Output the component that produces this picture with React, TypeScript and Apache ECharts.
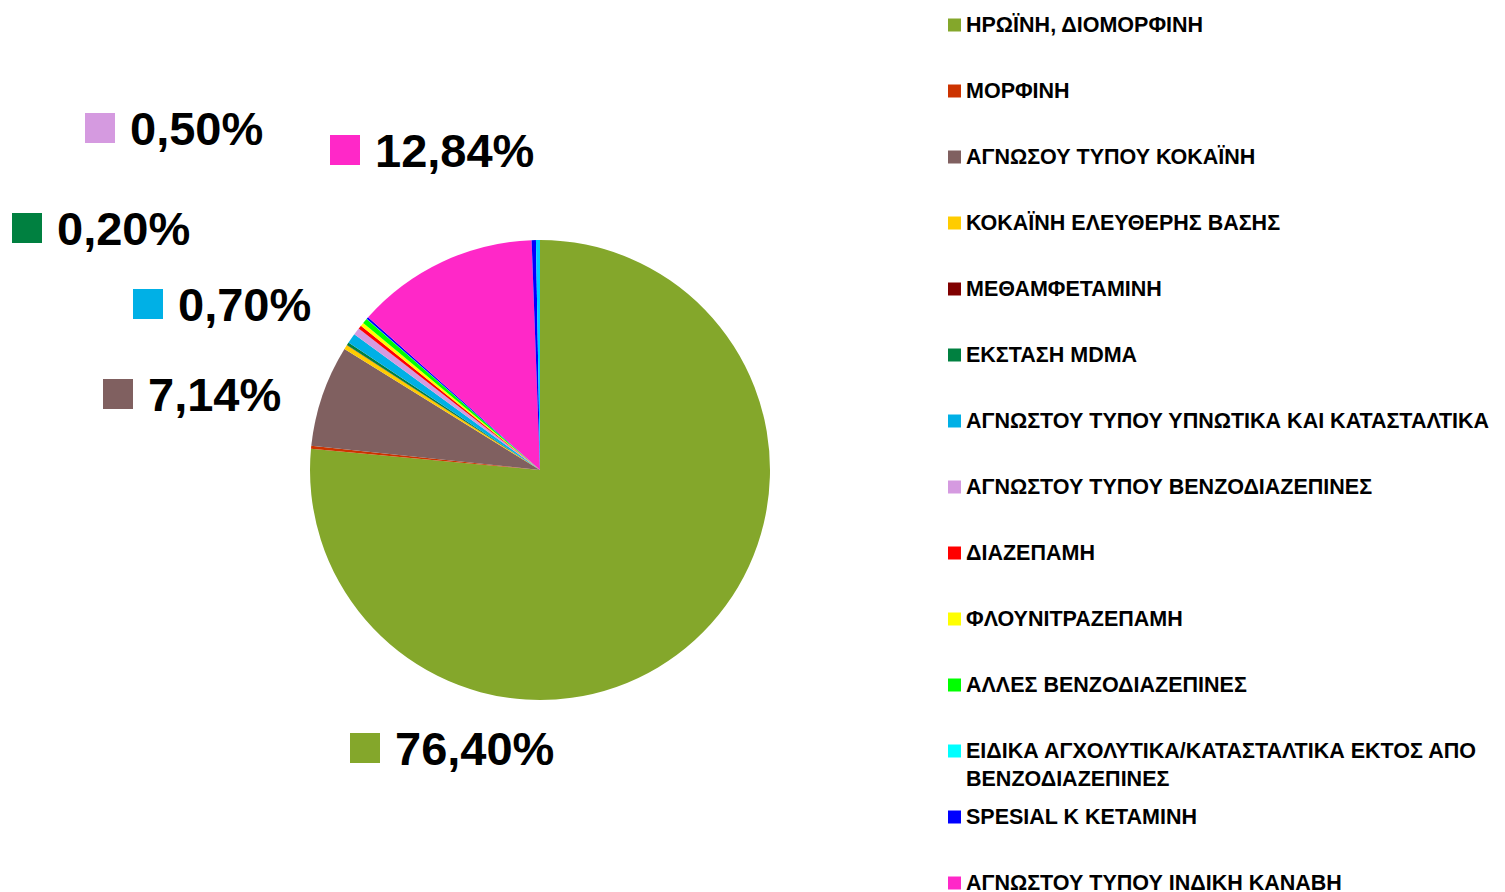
import React, { useEffect, useRef } from 'react';
import * as echarts from 'echarts';

const categories = [
  'ΗΡΩΪΝΗ, ΔΙΟΜΟΡΦΙΝΗ',
  'ΜΟΡΦΙΝΗ',
  'ΑΓΝΩΣΟΥ ΤΥΠΟΥ ΚΟΚΑΪΝΗ',
  'ΚΟΚΑΪΝΗ ΕΛΕΥΘΕΡΗΣ ΒΑΣΗΣ',
  'ΜΕΘΑΜΦΕΤΑΜΙΝΗ',
  'ΕΚΣΤΑΣΗ MDMA',
  'ΑΓΝΩΣΤΟΥ ΤΥΠΟΥ ΥΠΝΩΤΙΚΑ ΚΑΙ ΚΑΤΑΣΤΑΛΤΙΚΑ',
  'ΑΓΝΩΣΤΟΥ ΤΥΠΟΥ ΒΕΝΖΟΔΙΑΖΕΠΙΝΕΣ',
  'ΔΙΑΖΕΠΑΜΗ',
  'ΦΛΟΥΝΙΤΡΑΖΕΠΑΜΗ',
  'ΑΛΛΕΣ ΒΕΝΖΟΔΙΑΖΕΠΙΝΕΣ',
  'ΕΙΔΙΚΑ ΑΓΧΟΛΥΤΙΚΑ/ΚΑΤΑΣΤΑΛΤΙΚΑ ΕΚΤΟΣ ΑΠΟ ΒΕΝΖΟΔΙΑΖΕΠΙΝΕΣ',
  'SPESIAL K ΚΕΤΑΜΙΝΗ',
  'ΑΓΝΩΣΤΟΥ ΤΥΠΟΥ ΙΝΔΙΚΗ ΚΑΝΑΒΗ',
  'ΛΟΙΠΕΣ ΟΥΣΙΕΣ',
  'ΛΟΙΠΑ',
];

const values = [76.4, 0.2, 7.14, 0.3, 0.02, 0.2, 0.7, 0.5, 0.25, 0.25, 0.35, 0.02, 0.15, 12.84, 0.3, 0.28];

const colors = [
  '#84A72B', '#CC3300', '#806060', '#FFCC00', '#800000', '#008040', '#00B0E6', '#D59AE0',
  '#FF0000', '#FFFF00', '#00FF00', '#00FFFF', '#0000FF', '#FF28C8', '#0000FF', '#00CCFF',
];

const labeledCategories = [
  'ΗΡΩΪΝΗ, ΔΙΟΜΟΡΦΙΝΗ',
  'ΑΓΝΩΣΟΥ ΤΥΠΟΥ ΚΟΚΑΪΝΗ',
  'ΕΚΣΤΑΣΗ MDMA',
  'ΑΓΝΩΣΤΟΥ ΤΥΠΟΥ ΥΠΝΩΤΙΚΑ ΚΑΙ ΚΑΤΑΣΤΑΛΤΙΚΑ',
  'ΑΓΝΩΣΤΟΥ ΤΥΠΟΥ ΒΕΝΖΟΔΙΑΖΕΠΙΝΕΣ',
  'ΑΓΝΩΣΤΟΥ ΤΥΠΟΥ ΙΝΔΙΚΗ ΚΑΝΑΒΗ',
];

const FONT = 'Arial, "Liberation Sans", sans-serif';

// Layout: anchor (left edge, vertical centre) of each data label
const labelAnchors: Record<string, [number, number]> = {
  'ΗΡΩΪΝΗ, ΔΙΟΜΟΡΦΙΝΗ': [350, 748],
  'ΑΓΝΩΣΟΥ ΤΥΠΟΥ ΚΟΚΑΪΝΗ': [103, 394],
  'ΕΚΣΤΑΣΗ MDMA': [12, 228],
  'ΑΓΝΩΣΤΟΥ ΤΥΠΟΥ ΥΠΝΩΤΙΚΑ ΚΑΙ ΚΑΤΑΣΤΑΛΤΙΚΑ': [133, 304],
  'ΑΓΝΩΣΤΟΥ ΤΥΠΟΥ ΒΕΝΖΟΔΙΑΖΕΠΙΝΕΣ': [85, 128],
  'ΑΓΝΩΣΤΟΥ ΤΥΠΟΥ ΙΝΔΙΚΗ ΚΑΝΑΒΗ': [330, 150],
};

const fmt = (v: number) => v.toFixed(2).replace('.', ',') + '%';

const legendText = {
  color: '#000',
  fontSize: 21.5,
  fontWeight: 'bold' as const,
  fontFamily: FONT,
};

export default function App() {
  const ref = useRef<HTMLDivElement>(null);
  useEffect(() => {
    if (!ref.current) return;
    const chart = echarts.init(ref.current, undefined, { renderer: 'svg' });
    const data = categories.map((name, i) => ({
      name,
      value: values[i],
      itemStyle: { color: colors[i] },
      label: {
        show: labeledCategories.includes(name),
        formatter: `{sq|}{v|${fmt(values[i])}}`,
        rich: {
          sq: { width: 30, height: 30, backgroundColor: colors[i], verticalAlign: 'middle' },
          v: {
            fontSize: 47,
            fontWeight: 'bold',
            color: '#000',
            fontFamily: FONT,
            padding: [0, 0, 0, 15],
            verticalAlign: 'middle',
          },
        },
      },
    }));
    const legendBase = {
      orient: 'vertical',
      left: 948,
      padding: 0,
      height: 160,
      icon: 'rect',
      itemWidth: 13,
      itemHeight: 13,
      selectedMode: false,
    };
    chart.setOption({
      animation: false,
      backgroundColor: '#fff',
      legend: [
        {
          ...legendBase,
          height: 700,
          top: 13,
          itemGap: 42,
          data: categories.slice(0, 11),
          textStyle: { ...legendText, lineHeight: 24 },
        },
        {
          ...legendBase,
          top: 709,
          data: [categories[11]],
          formatter: (n: string) => '\n' + n.replace(' ΑΠΟ ', ' ΑΠΟ\n'),
          textStyle: { ...legendText, lineHeight: 28 },
        },
        {
          ...legendBase,
          top: 805,
          itemGap: 42,
          data: categories.slice(12, 14),
          textStyle: { ...legendText, lineHeight: 24 },
        },
      ],
      series: [
        {
          type: 'pie',
          center: [540, 470],
          radius: 230,
          startAngle: 90,
          clockwise: true,
          avoidLabelOverlap: false,
          silent: true,
          itemStyle: { borderWidth: 0 },
          label: { position: 'outside' },
          labelLine: { show: false },
          labelLayout: (params: any) => {
            const a = labelAnchors[categories[params.dataIndex]];
            if (!a) return {};
            return { x: a[0], y: a[1], align: 'left', verticalAlign: 'middle' };
          },
          data,
        },
      ],
    });
    return () => chart.dispose();
  }, []);
  return (
    <div
      ref={ref}
      style={{ position: 'fixed', left: 0, top: 0, width: 1505, height: 892 }}
    />
  );
}
